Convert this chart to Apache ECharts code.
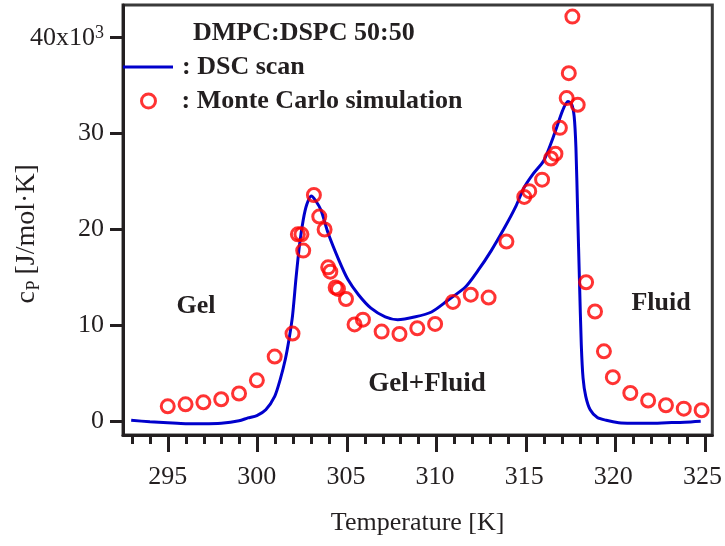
<!DOCTYPE html>
<html>
<head>
<meta charset="utf-8">
<script src="https://cdn.jsdelivr.net/npm/echarts@6/dist/echarts.min.js"></script>
<style>html,body{margin:0;padding:0;background:#fff}#c{width:725px;height:546px}</style>
</head>
<body>
<div id="c"></div>
<script>
// DSC scan: temperature [K] and cp [10^3 J/mol.K]
var dscT  = [292.95,294,295,296,297,298,299,299.5,300,300.5,301,301.3,301.6,301.8,302.0,302.2,302.4,302.6,302.8,303.05,303.3,303.6,304.0,304.6,305.1,305.7,306.4,307.2,307.9,308.9,309.8,310.7,311.7,312.4,313.15,313.9,314.5,315.0,315.5,316.1,316.7,317.15,317.45,317.65,317.8,317.9,318.0,318.1,318.2,318.3,318.45,318.7,319.1,319.6,320.3,321,322,323,324,324.9];
var dscCp = [0.1,-0.05,-0.15,-0.25,-0.25,-0.2,0.05,0.35,0.6,1.2,2.6,4.3,6.5,8.5,11.0,15.0,18.5,21.0,22.6,23.5,23.0,22.0,19.6,16.8,14.8,13.2,11.8,10.9,10.6,10.9,11.4,12.6,14.0,15.7,17.8,20.2,22.3,24.4,25.8,27.2,30.0,32.4,33.35,33.1,31.8,28.5,21.5,14.5,8.0,4.5,2.6,1.2,0.4,0.1,-0.15,-0.2,-0.2,-0.15,-0.1,0.0];
// Monte Carlo simulation
var mcT  = [295,296,297,298,299,300,301,302,302.3,302.5,302.6,303.2,303.5,303.8,304.0,304.12,304.42,304.55,305.0,305.48,305.95,307,308,309,310,311,312,313,314,315.0,315.28,316,316.5,316.75,317.0,317.38,317.5,317.7,318.0,318.47,318.97,319.47,319.97,320.95,321.95,322.95,323.95,324.95];
var mcCp = [1.56,1.77,1.98,2.3,2.9,4.27,6.75,9.15,19.5,19.5,17.8,23.6,21.35,20.0,16.05,15.6,13.95,13.8,12.75,10.1,10.6,9.35,9.1,9.7,10.15,12.45,13.2,12.9,18.75,23.4,24.0,25.2,27.4,27.9,30.6,33.7,36.3,42.2,33.0,14.5,11.45,7.3,4.6,2.95,2.17,1.67,1.32,1.15];
// Axis ticks
var xMajor = [295,300,305,310,315,320,325];
var xMinor = [293,294,295,296,297,298,299,300,301,302,303,304,305,306,307,308,309,310,311,312,313,314,315,316,317,318,319,320,321,322,323,324,325];
var yMajor = [0,10,20,30,40];

var FONT = 'Liberation Serif';
var INK = '#231f20';
var dscData = dscT.map(function(t,i){return [t, dscCp[i]];});
var mcData = mcT.map(function(t,i){return [t, mcCp[i]];});
var X0 = 292.49, X1 = 325.55, Y0 = -1.43, Y1 = 43.41;
var gridPos = {left:123, right:10, top:5, bottom:111};

function tickAxis(gi, vals, len){
  return {type:'value', gridIndex:gi, min:X0, max:X1, position:'bottom',
    axisLine:{show:false, onZero:false},
    axisTick:{show:true, customValues:vals, length:len, lineStyle:{color:INK, width:3}},
    axisLabel:{show:false}, splitLine:{show:false}};
}

var chart = echarts.init(document.getElementById('c'), null, {renderer:'canvas'});
chart.setOption({
  animation:false,
  backgroundColor:'#fff',
  title:{text:'DMPC:DSPC 50:50', left:193, top:20, padding:0,
    textStyle:{fontFamily:FONT, fontWeight:'bold', fontSize:26, color:INK}},
  legend:[
    {data:[{name:'DSC scan', icon:'rect'}], left:123, top:54, padding:0, itemWidth:50, itemHeight:3, selectedMode:false,
     formatter:function(n){return ': '+n;},
     itemStyle:{color:'#0000cc'},
     textStyle:{fontFamily:FONT, fontWeight:'bold', fontSize:26, color:INK, padding:[0,0,0,4]}},
    {data:[{name:'Monte Carlo simulation', icon:'circle'}], left:140, top:88, padding:0, itemWidth:14, itemHeight:14, selectedMode:false,
     formatter:function(n){return ': '+n;},
     itemStyle:{color:'rgba(0,0,0,0)', borderColor:'#ff0000', borderWidth:3},
     textStyle:{fontFamily:FONT, fontWeight:'bold', fontSize:26, color:INK, padding:[0,0,0,21]}}
  ],
  grid:[
    Object.assign({show:true, borderColor:'#3a3a3a', borderWidth:3, containLabel:false}, gridPos),
    Object.assign({show:false, containLabel:false}, gridPos),
    Object.assign({show:false, containLabel:false}, gridPos)
  ],
  xAxis:[
    {type:'value', gridIndex:0, min:X0, max:X1, position:'bottom',
     axisLine:{show:true, onZero:false, lineStyle:{color:INK, width:3}},
     axisTick:{show:false},
     axisLabel:{show:true, customValues:xMajor, margin:29, fontFamily:FONT, fontSize:26, color:INK},
     splitLine:{show:false},
     name:'Temperature [K]', nameLocation:'middle', nameGap:75,
     nameTextStyle:{fontFamily:FONT, fontSize:26, color:INK}},
    tickAxis(1, xMinor, 9),
    tickAxis(2, xMajor, 17)
  ],
  yAxis:[
    {type:'value', gridIndex:0, min:Y0, max:Y1, position:'left',
     axisLine:{show:true, onZero:false, lineStyle:{color:INK, width:3}},
     axisTick:{show:true, customValues:yMajor, length:13, lineStyle:{color:INK, width:3}},
     axisLabel:{show:true, customValues:yMajor, margin:19,
       formatter:function(v){ return v===40 ? '{n|40x10}{s|3}' : '{n|'+v+'}'; },
       rich:{
         n:{fontFamily:FONT, fontSize:26, color:INK},
         s:{fontFamily:FONT, fontSize:18, color:INK, lineHeight:4, verticalAlign:'top'}
       }},
     splitLine:{show:false}},
    {type:'value', gridIndex:1, min:Y0, max:Y1, show:false},
    {type:'value', gridIndex:2, min:Y0, max:Y1, show:false}
  ],
  graphic:[
    {type:'group', x:27, y:235, rotation:Math.PI/2, children:[
      {type:'text', x:-68.5, y:0, style:{text:'c', align:'left', verticalAlign:'middle',
         font:'28px "Liberation Serif"', fill:INK}},
      {type:'text', x:-55.5, y:7, style:{text:'P', align:'left', verticalAlign:'middle',
         font:'18px "Liberation Serif"', fill:INK}},
      {type:'text', x:-39.5, y:0, style:{text:'[J/mol·K]', align:'left', verticalAlign:'middle',
         font:'28px "Liberation Serif"', fill:INK}}
    ]},
    {type:'text', x:196, y:306, style:{text:'Gel', align:'center', verticalAlign:'middle',
       font:'bold 26px "Liberation Serif"', fill:INK}},
    {type:'text', x:427, y:384, style:{text:'Gel+Fluid', align:'center', verticalAlign:'middle',
       font:'bold 27px "Liberation Serif"', fill:INK}},
    {type:'text', x:661, y:303, style:{text:'Fluid', align:'center', verticalAlign:'middle',
       font:'bold 26px "Liberation Serif"', fill:INK}}
  ],
  series:[
    {name:'DSC scan', type:'line', xAxisIndex:0, yAxisIndex:0, data:dscData,
     symbol:'none', smooth:0.25, lineStyle:{color:'#0000cc', width:3}, itemStyle:{color:'#0000cc'}, z:2},
    {name:'Monte Carlo simulation', type:'scatter', xAxisIndex:0, yAxisIndex:0, data:mcData,
     symbol:'circle', symbolSize:13,
     itemStyle:{color:'rgba(0,0,0,0)', borderColor:'#ff0000', borderWidth:3}, z:3}
  ]
});
</script>
</body>
</html>
